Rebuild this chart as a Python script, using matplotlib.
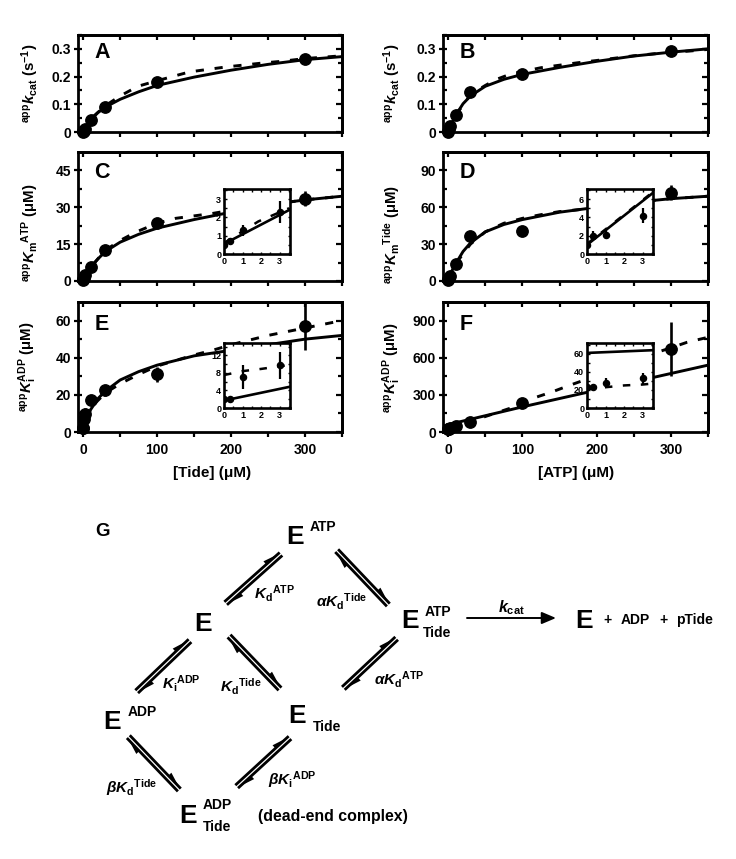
import numpy as np
import matplotlib
matplotlib.use('Agg')
import matplotlib.pyplot as plt
from matplotlib.patches import Polygon

plt.rcParams['font.family'] = ['Liberation Sans', 'DejaVu Sans']
plt.rcParams['font.weight'] = 'bold'
plt.rcParams['mathtext.fontset'] = 'custom'
plt.rcParams['mathtext.rm'] = 'Liberation Sans'
plt.rcParams['mathtext.bf'] = 'Liberation Sans:bold'
plt.rcParams['mathtext.it'] = 'Liberation Sans:italic:bold'

W, H = 736, 859

# 数据点 (底物浓度)
conc = [0, 0.3, 1, 3, 10, 30, 100, 300]

a_y = [0, 0.002, 0.005, 0.012, 0.045, 0.09, 0.182, 0.265]
a_err = [0, 0, 0, 0, 0.004, 0.005, 0.008, 0.008]
a_sx = [0, 3, 10, 20, 30, 50, 75, 100, 150, 200, 250, 300, 350]
a_sy = [0, 0.014, 0.043, 0.07, 0.09, 0.118, 0.145, 0.168, 0.198, 0.223, 0.244, 0.261, 0.272]
a_dx = [0, 10, 30, 50, 74, 100, 144, 194, 243, 268, 300, 350]
a_dy = [0, 0.047, 0.095, 0.13, 0.165, 0.185, 0.217, 0.235, 0.249, 0.255, 0.265, 0.275]

b_y = [0, 0.005, 0.01, 0.022, 0.06, 0.145, 0.21, 0.292]
b_err = [0, 0, 0, 0, 0.004, 0.006, 0.008, 0.008]
b_sx = [0, 3, 10, 20, 30, 50, 75, 100, 150, 200, 250, 300, 350]
b_sy = [0, 0.02, 0.06, 0.102, 0.13, 0.165, 0.19, 0.208, 0.233, 0.255, 0.274, 0.288, 0.30]
b_dx = [0, 10, 30, 50, 65, 85, 100, 125, 150, 175, 200, 250, 300, 325, 350]
b_dy = [0, 0.06, 0.135, 0.168, 0.19, 0.21, 0.218, 0.232, 0.241, 0.25, 0.258, 0.275, 0.288, 0.292, 0.298]

c_y = [0.5, 0.7, 1.3, 2.3, 5.8, 12.5, 23.5, 33.5]
c_err = [0, 0.15, 0.3, 0.6, 0.8, 1, 1.2, 3]
c_sx = [0, 3, 10, 20, 30, 50, 75, 100, 150, 200, 250, 300, 350]
c_sy = [0.5, 2.2, 5.5, 9, 12, 15.8, 19, 21.5, 25, 28, 31, 33, 34.5]
c_dx = [0, 3, 10, 30, 50, 72, 100, 125, 150, 175, 200, 250, 300, 350]
c_dy = [0.6, 2.3, 5.6, 12.5, 16.5, 20, 23.5, 25.5, 26.5, 27.5, 28.8, 31, 33, 34.5]
c_in_sx = [0, 3.5]
c_in_sy = [0.55, 2.4]
c_in_dx = [0, 1.85, 3.5]
c_in_dy = [0.6, 1.78, 2.5]

d_y = [1, 2, 2.1, 4.2, 14, 36.5, 40.5, 72]
d_err = [0, 0.5, 0.5, 0.8, 1.5, 2, 2, 6]
d_sx = [0, 3, 10, 20, 30, 50, 75, 100, 150, 200, 250, 300, 350]
d_sy = [1, 6, 14, 24, 31, 40, 46, 50, 56, 60, 64, 67, 69]
d_dx = [0, 3, 10, 30, 50, 75, 100, 125, 150, 175, 200, 250, 300, 350]
d_dy = [1, 6, 14, 30, 40, 47, 51, 54, 56.5, 58, 60, 64, 67, 69]
d_in_sx = [0, 3.5]
d_in_sy = [1, 6.6]
d_in_dx = [0, 3.5]
d_in_dy = [1.1, 6.7]

e_y = [2, 2.1, 7, 9.7, 17, 22.5, 31, 57]
e_err = [0, 0.5, 2.7, 3, 2, 3, 4, 13]
e_sx = [0, 3, 10, 20, 30, 50, 75, 100, 150, 200, 250, 300, 350]
e_sy = [1.7, 4.3, 12, 18, 22, 28, 32.5, 36, 41, 44, 47, 50, 52]
e_dx = [0, 3, 10, 30, 50, 75, 100, 125, 150, 175, 200, 225, 250, 275, 300, 325, 350]
e_dy = [7.5, 9.5, 13, 21, 26, 31, 35.5, 38.5, 41.5, 44, 47, 49.5, 52, 54, 56, 58, 60]
e_in_sx = [0, 3.5]
e_in_sy = [1.7, 4.8]
e_in_dx = [0, 1, 2, 3, 3.5]
e_in_dy = [7.5, 8.4, 8.9, 9.5, 9.8]

f_y = [23, 23, 28, 33, 45, 80, 235, 670]
f_err = [0, 3, 5, 6, 10, 15, 30, 220]
f_sx = [0, 100, 350]
f_sy = [60, 203, 540]
f_dx = [0, 30, 70, 100, 117, 140, 164, 200, 277, 300, 322, 350]
f_dy = [22, 85, 165, 225, 278, 324, 378, 455, 635, 680, 725, 765]
f_in_sx = [0, 3.5]
f_in_sy = [61, 64]
f_in_dx = [0, 1, 2, 3, 3.5]
f_in_dy = [21, 23, 25, 26, 27]


def axes_px(l, t, r, b):
    return fig.add_axes([l / W, 1 - b / H, (r - l) / W, (b - t) / H])


def frame_ticks(ax, xmajor, xminor, ymajor, yminor, size, lw):
    # 上/右 刻度朝内, 下/左 刻度朝外
    ax.set_xticks(xmajor)
    ax.set_xticks(xminor, minor=True)
    ax.set_yticks(ymajor)
    ax.set_yticks(yminor, minor=True)
    ax.tick_params(axis='x', which='both', direction='out', length=size, width=lw)
    ax.tick_params(axis='y', which='major', direction='inout', length=size * 1.7, width=lw)
    ax.tick_params(axis='y', which='minor', direction='in', length=size * 0.8, width=lw)
    top = ax.secondary_xaxis('top')
    top.set_xticks(xmajor + xminor)
    top.tick_params(direction='in', length=size, width=lw, labeltop=False)
    right = ax.secondary_yaxis('right')
    right.set_yticks(ymajor)
    right.set_yticks(yminor, minor=True)
    right.tick_params(which='major', direction='in', length=size * 1.2, width=lw, labelright=False)
    right.tick_params(which='minor', direction='in', length=size * 0.8, width=lw)
    for a in (ax, top, right):
        for s in a.spines.values():
            s.set_linewidth(lw + 0.4)


def panel(box, ylim, ymajor, yminor, ylabels, y, err, sx, sy, dx, dy, xlabels=False):
    ax = axes_px(*box)
    ax.set_xlim(-7, 350)
    ax.set_ylim(0, ylim)
    ax.plot(sx, sy, color='k', lw=2.1, zorder=3)
    ax.plot(dx, dy, color='k', lw=2.1, dashes=(2.8, 3.7), zorder=3)
    ax.errorbar(conc, y, yerr=err, fmt='o', color='k', ms=8.2, elinewidth=1.9, capsize=0,
                zorder=4, clip_on=False)
    frame_ticks(ax, [0, 100, 200, 300], [50, 150, 250, 350], ymajor, yminor, 3.6, 1.6)
    ax.set_yticklabels(ylabels, fontsize=10, fontweight='bold')
    if xlabels:
        ax.set_xticklabels(['0', '100', '200', '300'], fontsize=10, fontweight='bold')
    else:
        ax.set_xticklabels([])
    ax.tick_params(axis='y', which='major', pad=2)
    ax.tick_params(axis='x', which='major', pad=4.5)
    return ax


def inset(box, ylim, ymajor, yminor, y, err, sx, sy, dx, dy):
    ax = axes_px(*box)
    ax.set_facecolor('white')
    ax.set_zorder(5)
    ax.set_xlim(0, 3.55)
    ax.set_ylim(0, ylim)
    ax.plot(sx, sy, color='k', lw=1.9, zorder=3)
    ax.plot(dx, dy, color='k', lw=1.8, dashes=(3, 4.2), zorder=3)
    ax.errorbar(conc, y, yerr=err, fmt='o', color='k', ms=4.4, elinewidth=1.6, capsize=0, zorder=4)
    ax.set_xticks([0, 1, 2, 3])
    ax.set_xticks([0.5, 1.5, 2.5, 3.5], minor=True)
    ax.set_yticks(ymajor)
    ax.set_yticks(yminor, minor=True)
    ax.tick_params(axis='both', which='both', direction='in', length=1.8, width=1,
                   top=True, right=True, labelsize=6.5, pad=2)
    for s in ax.spines.values():
        s.set_linewidth(1.9)
    return ax


fig = plt.figure(figsize=(W / 100, H / 100), dpi=100, facecolor='white')

tr1 = (78, 35, 342, 132)
tr2 = (443, 35, 708, 132)
mid1 = (78, 152, 342, 281)
mid2 = (443, 152, 708, 281)
bot1 = (78, 302, 342, 432)
bot2 = (443, 302, 708, 432)

panel(tr1, 0.35, [0, 0.1, 0.2, 0.3], [0.05, 0.15, 0.25, 0.35], ['0', '0.1', '0.2', '0.3'], a_y, a_err, a_sx, a_sy, a_dx, a_dy)
panel(tr2, 0.35, [0, 0.1, 0.2, 0.3], [0.05, 0.15, 0.25, 0.35], ['0', '0.1', '0.2', '0.3'], b_y, b_err, b_sx, b_sy, b_dx, b_dy)
panel(mid1, 52.5, [0, 15, 30, 45], [7.5, 22.5, 37.5], ['0', '15', '30', '45'], c_y, c_err, c_sx, c_sy, c_dx, c_dy)
panel(mid2, 105, [0, 30, 60, 90], [15, 45, 75], ['0', '30', '60', '90'], d_y, d_err, d_sx, d_sy, d_dx, d_dy)
panel(bot1, 70, [0, 20, 40, 60], [10, 30, 50], ['0', '20', '40', '60'], e_y, e_err, e_sx, e_sy, e_dx, e_dy, xlabels=True)
panel(bot2, 1050, [0, 300, 600, 900], [150, 450, 750], ['0', '300', '600', '900'], f_y, f_err, f_sx, f_sy, f_dx, f_dy, xlabels=True)

inset((224, 189, 290, 254), 3.55, [0, 1, 2, 3], [0.5, 1.5, 2.5, 3.5], c_y, c_err, c_in_sx, c_in_sy, c_in_dx, c_in_dy)
inset((587, 189, 653, 254), 7.1, [0, 2, 4, 6], [1, 3, 5, 7], d_y, d_err, d_in_sx, d_in_sy, d_in_dx, d_in_dy)
inset((224, 343, 290, 408), 14.8, [0, 4, 8, 12], [2, 6, 10, 14], e_y, e_err, e_in_sx, e_in_sy, e_in_dx, e_in_dy)
inset((587, 343, 653, 408), 72, [0, 20, 40, 60], [10, 30, 50, 70], f_y, f_err, f_in_sx, f_in_sy, f_in_dx, f_in_dy)

# 覆盖层: 文字和机制图都用像素坐标
ov = fig.add_axes([0, 0, 1, 1], facecolor='none')
ov.set_xlim(0, W)
ov.set_ylim(H, 0)
ov.axis('off')
ov.set_zorder(10)


def txt(x, y, s, size=8, **kw):
    kw.setdefault('ha', 'center')
    kw.setdefault('va', 'center')
    kw.setdefault('fontweight', 'bold')
    ov.text(x, y, s, fontsize=size, **kw)


for x, y, s in [(102, 53, 'A'), (467, 53, 'B'), (102, 172, 'C'), (467, 172, 'D'), (102, 324, 'E'), (466, 324, 'F')]:
    txt(x, y, s, size=15.5)

ylab = [
    (30, 83, r'$^{\mathrm{app}}k_{\mathbf{cat}}$ (s$^{\mathbf{-1}}$)'),
    (392, 83, r'$^{\mathrm{app}}k_{\mathbf{cat}}$ (s$^{\mathbf{-1}}$)'),
    (30, 233, r'$^{\mathrm{app}}K_{\mathbf{m}}{}^{\mathbf{ATP}}$ (μM)'),
    (392, 235, r'$^{\mathrm{app}}K_{\mathbf{m}}{}^{\mathbf{Tide}}$ (μM)'),
    (28, 367, r'$^{\mathrm{app}}K_{\mathbf{i}}^{\mathbf{ADP}}$ (μM)'),
    (392, 368, r'$^{\mathrm{app}}K_{\mathbf{i}}^{\mathbf{ADP}}$ (μM)'),
]
for x, y, s in ylab:
    txt(x, y, s, size=10.8, rotation=90)
txt(212, 473, '[Tide] (μM)', size=11)
txt(576, 473, '[ATP] (μM)', size=11)

# 机制图
txt(103, 531, 'G', size=13.5)
big_e = [(295, 537), (203, 624), (410, 621), (584, 621), (112, 722), (297, 716), (188, 816)]
for x, y in big_e:
    txt(x, y, 'E', size=19)

small = [(323, 527, 'ATP'), (438, 612, 'ATP'), (437, 633, 'Tide'), (142, 712, 'ADP'), (327, 727, 'Tide'),
         (217, 805, 'ADP'), (217, 827, 'Tide'), (608, 620, '+'), (635, 620, 'ADP'), (663, 620, '+'),
         (694, 620, 'pTide')]
for x, y, s in small:
    txt(x, y, s, size=10)
txt(333, 817, '(dead-end complex)', size=11.4)

rate = [(275, 593, r'$K_{\mathbf{d}}{}^{\mathbf{ATP}}$'), (342, 602, r'$\alpha K_{\mathbf{d}}{}^{\mathbf{Tide}}$'),
        (181, 684, r'$K_{\mathbf{i}}{}^{\mathbf{ADP}}$'), (241, 687, r'$K_{\mathbf{d}}{}^{\mathbf{Tide}}$'),
        (399, 680, r'$\alpha K_{\mathbf{d}}{}^{\mathbf{ATP}}$'), (132, 788, r'$\beta K_{\mathbf{d}}{}^{\mathbf{Tide}}$'),
        (292, 780, r'$\beta K_{\mathbf{i}}{}^{\mathbf{ADP}}$')]
for x, y, s in rate:
    txt(x, y, s, size=11)
txt(511, 608, r'$k_{\mathbf{cat}}$', size=11.5)


def eq_arrow(x0, y0, x1, y1):
    # 两条平行线 + 半箭头
    p0 = np.array([x0, y0], float)
    p1 = np.array([x1, y1], float)
    u = (p1 - p0) / np.hypot(*(p1 - p0))
    n = np.array([u[1], -u[0]])
    for sign, a, b in [(1, p0, p1), (-1, p1, p0)]:
        off = n * 2.0 * sign
        ov.plot([(a + off)[0], (b + off)[0]], [(a + off)[1], (b + off)[1]], color='k', lw=2.0,
                solid_capstyle='butt')
        d = (b - a) / np.hypot(*(b - a))
        tip = b + off - d * 3
        ov.add_patch(Polygon([tip, tip - d * 15, tip - d * 15 + off / 2.0 * 4.2], closed=True, color='k', lw=0))


pairs = [(603, 132, 437, 280), (770, 122, 925, 285), (330, 392, 170, 545), (447, 378, 600, 537),
         (950, 385, 790, 535), (145, 680, 298, 840), (630, 683, 470, 830)]
for x0, y0, x1, y1 in pairs:
    eq_arrow(x0 / 3 + 80, y0 / 3 + 510, x1 / 3 + 80, y1 / 3 + 510)

ov.annotate('', xy=(556, 618), xytext=(467, 618),
            arrowprops=dict(arrowstyle='-|>,head_length=0.85,head_width=0.36', color='k', lw=1.4,
                            shrinkA=0, shrinkB=0))

fig.savefig('out.png', dpi=100)
